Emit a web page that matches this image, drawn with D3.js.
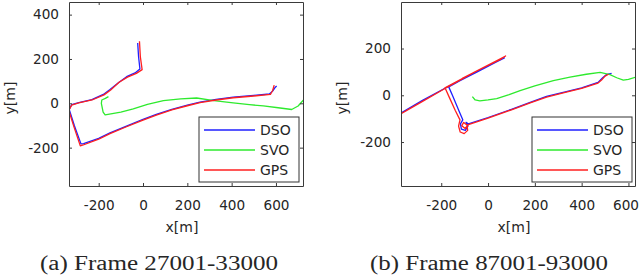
<!DOCTYPE html>
<html>
<head>
<meta charset="utf-8">
<script src="https://cdn.jsdelivr.net/npm/d3@7"></script>
<style>
  body { margin: 0; background: #fff; }
  text { font-family: "DejaVu Sans", sans-serif; fill: #262626; }
</style>
</head>
<body>
<div id="chart"></div>
<script>
// trajectory data: [x, y] in metres
const seriesNames = ["DSO", "SVO", "GPS"];
const seriesColors = ["#1f1fff", "#2eea2e", "#ff1f1f"];

// panel (a) Frame 27001-33000
const dsoA = [[-24,272],[-20,210],[-14,155],[-36,137],[-74,120],[-111,93],[-149,62],[-179,40],[-231,17],[-290,3],[-322,-6],[-333,-28],[-310,-100],[-280,-183],[-268,-182],[-200,-158],[-149,-133],[-80,-105],[0,-72],[60,-50],[130,-27],[200,-8],[257,5],[330,18],[407,28],[500,36],[570,42],[585,55],[595,70],[603,78]];
const svoA = [[-156,30],[-170,22],[-186,15],[-188,0],[-180,-40],[-171,-52],[-100,-40],[-44,-25],[20,-5],[92,12],[170,20],[242,24],[320,12],[407,2],[480,-6],[543,-12],[610,-20],[671,-28],[700,-12],[730,22]];
const gpsA = [[-16,280],[-12,210],[-4,152],[-30,135],[-70,118],[-108,95],[-146,60],[-176,38],[-230,15],[-290,2],[-322,-8],[-335,-32],[-312,-105],[-283,-192],[-270,-188],[-200,-162],[-149,-137],[-80,-108],[0,-76],[60,-53],[130,-30],[200,-11],[257,3],[330,15],[407,25],[500,33],[575,40],[585,58],[592,82]];

// panel (b) Frame 87001-93000
const dsoB = [[-380,-80],[-280,-22],[-184,30],[-60,95],[40,145],[70,160],[50,150],[-40,103],[-120,62],[-168,36],[-150,-5],[-125,-65],[-108,-105],[-118,-122],[-114,-145],[-97,-150],[-86,-132],[-94,-116],[-84,-122],[0,-95],[100,-60],[180,-30],[250,-5],[330,15],[400,32],[470,55],[490,75],[505,88],[528,94]];
const svoB = [[-67,-6],[-55,-20],[-35,-24],[0,-20],[37,-14],[90,3],[137,20],[200,40],[279,63],[350,78],[420,90],[479,98],[521,88],[550,75],[578,65],[600,68],[640,80]];
const gpsB = [[-380,-84],[-280,-26],[-186,28],[-60,98],[40,150],[75,168],[55,155],[-20,118],[-110,72],[-184,32],[-165,-10],[-140,-65],[-120,-105],[-126,-132],[-119,-157],[-102,-164],[-87,-150],[-90,-127],[-104,-116],[-112,-130],[-98,-142],[-84,-125],[0,-98],[100,-62],[180,-32],[250,-8],[330,12],[400,30],[470,52],[485,65],[500,82],[515,90]];

const xTicksA = [-200, 0, 200, 400, 600];
const yTicksA = [-200, 0, 200, 400];
const xTicksB = [-200, 0, 200, 400, 600];
const yTicksB = [-200, 0, 200];

const captionA = "(a) Frame 27001-33000";
const captionB = "(b) Frame 87001-93000";

const W = 640, H = 277;
const svg = d3.select("#chart").append("svg")
    .attr("width", W)
    .attr("height", H);

function drawPanel(p) {
    const x = d3.scaleLinear().domain(p.xDomain).range([p.left, p.right]);
    const y = d3.scaleLinear().domain(p.yDomain).range([p.bottom, p.top]);
    const g = svg.append("g");

    // clip the trajectories to the axes box
    g.append("clipPath").attr("id", p.id + "-clip")
        .append("rect")
        .attr("x", p.left).attr("y", p.top)
        .attr("width", p.right - p.left).attr("height", p.bottom - p.top);

    const line = d3.line().x(d => x(d[0])).y(d => y(d[1]));
    g.append("g").attr("clip-path", "url(#" + p.id + "-clip)")
        .selectAll("path")
        .data(p.series)
        .enter()
        .append("path")
        .attr("d", d => line(d))
        .attr("fill", "none")
        .attr("stroke", (d, i) => seriesColors[i])
        .attr("stroke-width", 1.3)
        .attr("stroke-linejoin", "round");

    // axes, ticks pointing inwards on all four sides
    const styleAxis = sel => {
        sel.select(".domain").attr("stroke", "#3a3a3a");
        sel.selectAll(".tick line").attr("stroke", "#3a3a3a");
        sel.selectAll("text").style("font-size", "13.6px").attr("fill", "#262626")
            .style("font-family", "'DejaVu Sans', sans-serif");
    };
    g.append("g").attr("transform", "translate(0," + p.bottom + ")")
        .call(d3.axisBottom(x).tickValues(p.xTicks).tickSizeInner(-3).tickSizeOuter(0).tickPadding(14))
        .call(styleAxis);
    g.append("g").attr("transform", "translate(0," + p.top + ")")
        .call(d3.axisTop(x).tickValues(p.xTicks).tickSizeInner(-3).tickSizeOuter(0).tickFormat(""))
        .call(styleAxis);
    g.append("g").attr("transform", "translate(" + p.left + ",0)")
        .call(d3.axisLeft(y).tickValues(p.yTicks).tickSizeInner(-3).tickSizeOuter(0).tickPadding(10))
        .call(styleAxis);
    g.append("g").attr("transform", "translate(" + p.right + ",0)")
        .call(d3.axisRight(y).tickValues(p.yTicks).tickSizeInner(-3).tickSizeOuter(0).tickFormat(""))
        .call(styleAxis);
    g.selectAll(".tick text").text(function() { return this.textContent.replace("−", "-"); });

    // keep tick labels inside the page (the last x label sits at the edge)
    g.selectAll(".tick text").each(function() {
        const b = this.getBoundingClientRect();
        if (b.right > W - 1) d3.select(this).attr("dx", (W - 1 - b.right) + "px");
    });

    // axis labels
    g.append("text")
        .attr("x", p.xLabelX).attr("y", 232)
        .attr("text-anchor", "middle")
        .style("font-size", "14px")
        .text("x[m]");
    g.append("text")
        .attr("transform", "translate(" + p.yLabelX + ",98) rotate(-90)")
        .attr("text-anchor", "middle")
        .style("font-size", "14px")
        .text("y[m]");

    // legend
    const lg = g.append("g");
    lg.append("rect")
        .attr("x", p.legendX).attr("y", 117)
        .attr("width", 100).attr("height", 65)
        .attr("fill", "#fff").attr("stroke", "#333").attr("stroke-width", 1);
    seriesNames.forEach((name, i) => {
        const cy = 130 + i * 20;
        lg.append("line")
            .attr("x1", p.legendX + 5).attr("x2", p.legendX + 56)
            .attr("y1", cy).attr("y2", cy)
            .attr("stroke", seriesColors[i]).attr("stroke-width", 1.3);
        lg.append("text")
            .attr("x", p.legendX + 61).attr("y", cy)
            .attr("dy", "0.36em")
            .style("font-size", "14px")
            .text(name);
    });

    // caption
    g.append("text")
        .attr("x", p.captionX).attr("y", 270)
        .attr("text-anchor", "middle")
        .attr("textLength", 238)
        .attr("lengthAdjust", "spacingAndGlyphs")
        .style("font-family", "'Liberation Serif', 'Times New Roman', serif")
        .style("font-size", "20px")
        .attr("fill", "#111")
        .text(p.caption);
}

drawPanel({
    id: "a", left: 69, right: 303, top: 2, bottom: 186,
    xDomain: [-334, 722], yDomain: [-373, 457],
    xTicks: xTicksA, yTicks: yTicksA,
    series: [dsoA, svoA, gpsA],
    xLabelX: 182, yLabelX: 15, legendX: 199,
    captionX: 159, caption: captionA
});

drawPanel({
    id: "b", left: 401, right: 635, top: 2, bottom: 186,
    xDomain: [-372, 628], yDomain: [-388, 399],
    xTicks: xTicksB, yTicks: yTicksB,
    series: [dsoB, svoB, gpsB],
    xLabelX: 514, yLabelX: 347, legendX: 532,
    captionX: 489, caption: captionB
});
</script>
</body>
</html>
